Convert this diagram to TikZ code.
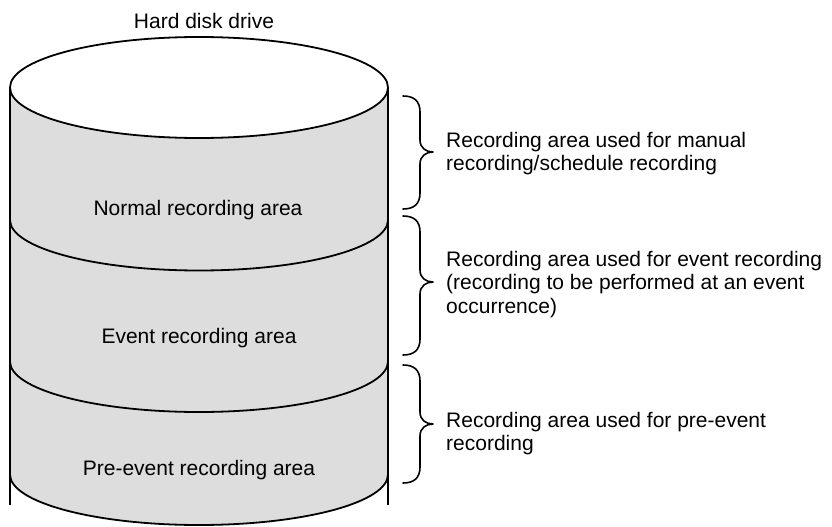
\documentclass[tikz,border=0pt]{standalone}
\usepackage{fontspec}
\setmainfont{Liberation Sans}
\definecolor{diskgray}{RGB}{220,221,220}
\newcommand\hddbrace[3]{%
  \draw[bracestyle] (403,#1) .. controls (414,#1) and (420,#1+5) .. (420,#1+16)
    -- (420,#2-12) .. controls (420,#2-4) and (426,#2) .. (433,#2)
    .. controls (426,#2) and (420,#2+4) .. (420,#2+12)
    -- (420,#3-16) .. controls (420,#3-5) and (414,#3) .. (403,#3);}
\begin{document}
\begin{tikzpicture}[x=1pt,y=-1pt,
  outline/.style={draw=black, line width=1.8pt},
  halfarc/.style={start angle=180, end angle=360, x radius=189pt, y radius=50.5pt},
  lbl/.style={font=\fontsize{21}{23.5}\selectfont, inner sep=0pt, align=left, anchor=base west},
  area/.style={font=\fontsize{21}{23.5}\selectfont, inner sep=0pt, anchor=base},
  bracestyle/.style={draw=black, line width=1.6pt, line join=round, line cap=round}]
\useasboundingbox (0,0) rectangle (832,527);
% body
\fill[diskgray] (10,87.5) -- (10,474.5) arc[halfarc] -- (388,87.5) -- cycle;
\draw[outline] (10,220) arc[halfarc];
\draw[outline] (10,361.5) arc[halfarc];
\draw[outline] (10,474.5) arc[halfarc];
\draw[outline] (10,87.5) -- (10,505);
\draw[outline] (388,87.5) -- (388,505);
\draw[outline, fill=white] (199,87.5) ellipse [x radius=189pt, y radius=50.5pt];
% texts
\node[area] (title) at (204,29) {Hard disk drive};
\node[area] (normal) at (198,215) {Normal recording area};
\node[area] (event) at (199,343) {Event recording area};
\node[area] (pre) at (199,475) {Pre-event recording area};
% braces
\hddbrace{96}{152}{209}
\hddbrace{216}{282}{355}
\hddbrace{365}{424}{483}
% labels (base anchor = baseline of last line)
\node[lbl] (l1) at (446,170.5) {Recording area used for manual\\recording/schedule recording};
\node[lbl] (l2) at (446,313) {Recording area used for event recording\\(recording to be performed at an event\\occurrence)};
\node[lbl] (l3) at (446,450.5) {Recording area used for pre-event\\recording};
\end{tikzpicture}
\end{document}
